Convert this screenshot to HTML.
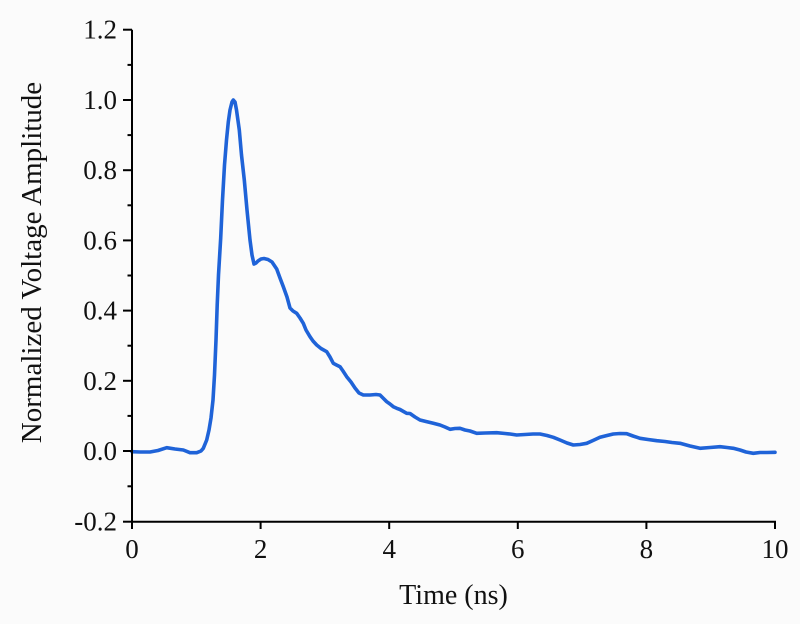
<!DOCTYPE html>
<html>
<head>
<meta charset="utf-8">
<style>
  html, body { margin:0; padding:0; background:#fbfbfb; }
  svg { display:block; }
  text { font-family: "Liberation Serif", "Times New Roman", serif; fill:#111; }
</style>
</head>
<body>
<svg width="800" height="624" viewBox="0 0 800 624" xmlns="http://www.w3.org/2000/svg">
  <rect x="0" y="0" width="800" height="624" fill="#fbfbfb"/>

  <!-- curve -->
  <polyline fill="none" stroke="#1f63d8" stroke-width="3.6" stroke-linejoin="round" stroke-linecap="round"
    points="132,451.7 140,452 150,452 158,450.5 166.7,447.7 175,449 183.3,450 190,452.7 196.7,452.7 201,451 203.3,448.3 206.7,440 209,430 211,418 213,400 214.5,375 216,340 217.2,305 218.5,275 220.7,238 222.5,200 224.5,165 226.5,140 228.3,122 230,110 232,102 233.3,100 235,102 236.5,110 239.3,130 241.5,155 244.3,180 247,210 250,240 252,255 254,264 256,263 258,261 261,259 264,258.5 268,259.5 272,262 276.7,269 280,278 283.3,286.7 287,297 290,308 293,311 296.7,313.3 300,318 303.3,323.3 306,330 310,336.7 313,341 316.7,345 321,348.5 326.7,351.7 330,357 333.3,363.3 336.5,365 340,366.7 343,371 346.7,376.7 351,382 355,388 359,393 363.3,395 370,395 376,394.5 380,395 383,398 386.7,401.7 390,404 393.3,406.7 396.7,408.3 400,409.5 406.7,413.3 410,413.5 415,417 420,420 426,421.5 433.3,423.3 440,425 445,427 450,429.3 455,428.5 460,428.3 465,430 470,431 476.7,433.3 485,433 496.7,432.7 505,433.5 510,434 516.7,435 525,434.5 533,434 540,434 547,435.5 553.3,437.3 560,440 567,443 573.3,445 580,444.5 586.7,443.3 593,440.5 600,437.3 607,435.5 613.3,434 620,433.5 626.7,433.7 633,436 640,438.3 648,439.5 656.7,440.7 665,441.5 672,442.5 680,443.3 690,446 700,448.3 710,447.5 720,446.7 727,447.5 733.3,448.3 740,450 746,452 753.3,453.3 760,452.5 767,452.5 775,452.3"/>

  <!-- axes -->
  <g stroke="#000" stroke-width="2" fill="none">
    <line x1="132" y1="29.7" x2="132" y2="522"/>
    <line x1="131" y1="521.7" x2="776" y2="521.7"/>
    <!-- y major ticks -->
    <line x1="123" y1="29.7" x2="132" y2="29.7"/>
    <line x1="123" y1="100" x2="132" y2="100"/>
    <line x1="123" y1="170.2" x2="132" y2="170.2"/>
    <line x1="123" y1="240.4" x2="132" y2="240.4"/>
    <line x1="123" y1="310.6" x2="132" y2="310.6"/>
    <line x1="123" y1="380.8" x2="132" y2="380.8"/>
    <line x1="123" y1="451" x2="132" y2="451"/>
    <line x1="123" y1="521.7" x2="132" y2="521.7"/>
    <!-- y minor ticks -->
    <line x1="127.5" y1="64.9" x2="132" y2="64.9"/>
    <line x1="127.5" y1="135.1" x2="132" y2="135.1"/>
    <line x1="127.5" y1="205.3" x2="132" y2="205.3"/>
    <line x1="127.5" y1="275.5" x2="132" y2="275.5"/>
    <line x1="127.5" y1="345.7" x2="132" y2="345.7"/>
    <line x1="127.5" y1="415.9" x2="132" y2="415.9"/>
    <line x1="127.5" y1="486.3" x2="132" y2="486.3"/>
    <!-- x ticks -->
    <line x1="132" y1="521.7" x2="132" y2="529"/>
    <line x1="260.6" y1="521.7" x2="260.6" y2="529"/>
    <line x1="389.2" y1="521.7" x2="389.2" y2="529"/>
    <line x1="517.8" y1="521.7" x2="517.8" y2="529"/>
    <line x1="646.4" y1="521.7" x2="646.4" y2="529"/>
    <line x1="775" y1="521.7" x2="775" y2="529"/>
  </g>

  <!-- y tick labels -->
  <g font-size="27" text-anchor="end">
    <text x="117" y="38.7">1.2</text>
    <text x="117" y="109">1.0</text>
    <text x="117" y="179.2">0.8</text>
    <text x="117" y="249.4">0.6</text>
    <text x="117" y="319.6">0.4</text>
    <text x="117" y="389.8">0.2</text>
    <text x="117" y="460">0.0</text>
    <text x="117" y="530.7">-0.2</text>
  </g>

  <!-- x tick labels -->
  <g font-size="27" text-anchor="middle">
    <text x="132" y="558">0</text>
    <text x="260.6" y="558">2</text>
    <text x="389.2" y="558">4</text>
    <text x="517.8" y="558">6</text>
    <text x="646.4" y="558">8</text>
    <text x="775" y="558">10</text>
  </g>

  <!-- axis titles -->
  <text x="453.5" y="604" font-size="28" text-anchor="middle">Time (ns)</text>
  <text transform="translate(41,262.5) rotate(-90)" font-size="29" text-anchor="middle">Normalized Voltage Amplitude</text>
</svg>
</body>
</html>
